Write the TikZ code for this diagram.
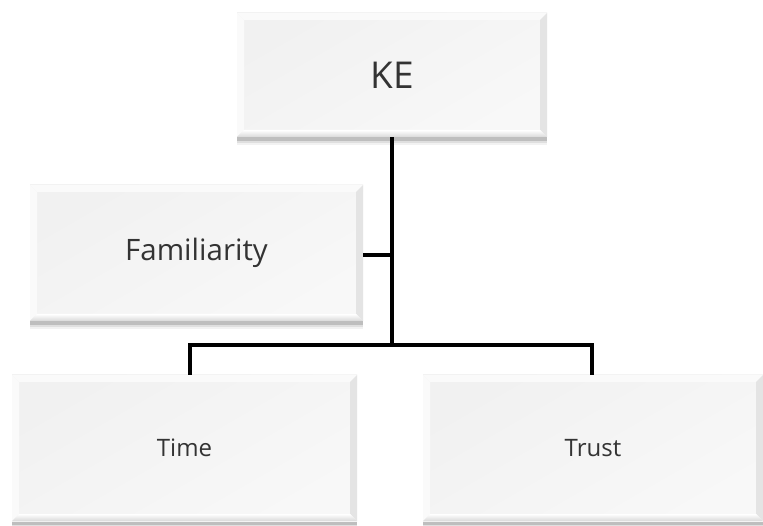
\documentclass[tikz,border=0pt]{standalone}
\usepackage{fontspec}
\setmainfont{Open Sans}
\usetikzlibrary{calc}
\definecolor{face}{HTML}{F1F1F1}
\definecolor{facelt}{HTML}{F8F8F8}
\definecolor{bevtop}{HTML}{FAFAFA}
\definecolor{bevside}{HTML}{E4E4E4}
\definecolor{txt}{HTML}{333333}
\tikzset{
  bevelbox/.style={
    rectangle, inner sep=0pt, text=txt,
    preaction={fill=black, opacity=0.05, transform canvas={yshift=-8pt}},
    preaction={fill=black, opacity=0.08, transform canvas={yshift=-6pt}},
    preaction={fill=black, opacity=0.15, transform canvas={yshift=-4pt}},
    shade, top color=face, bottom color=facelt, shading angle=30,
    path picture={
      \coordinate (sw) at (path picture bounding box.south west);
      \coordinate (ne) at (path picture bounding box.north east);
      \coordinate (se) at (sw -| ne);
      \coordinate (nw) at (sw |- ne);
      % top and left bevels
      \fill[bevtop] (nw) -- (ne) -- ($(ne)+(-7,7)$) -- ($(nw)+(7,7)$) -- cycle;
      \fill[bevtop] (nw) -- ($(nw)+(7,7)$) -- ($(sw)+(7,-7)$) -- (sw) -- cycle;
      % right bevel
      \fill[bevside] (ne) -- (se) -- ($(se)+(-7,-7)$) -- ($(ne)+(-7,7)$) -- cycle;
      % bottom bevel
      \shade[top color=white, bottom color=gray!30] (sw) -- ($(sw)+(7,-7)$) -- ($(se)+(-7,-7)$) -- (se) -- cycle;
      \draw[white, line width=0.8pt] ($(sw)+(7,-7)$) -- ($(se)+(-7,-7)$);
    }
  },
  conn/.style={line width=4pt, black}
}
\begin{document}
\begin{tikzpicture}[x=1pt, y=-1pt]
  \useasboundingbox (0,0) rectangle (763,526);

  \node[bevelbox, minimum width=310pt, minimum height=124pt, font=\fontsize{37}{42}\selectfont] (KE) at (392,75) {KE};
  \node[bevelbox, minimum width=333pt, minimum height=136pt, font=\fontsize{29.5}{34}\selectfont] (Fam) at (196.5,253) {Familiarity};
  \node[bevelbox, minimum width=345pt, minimum height=146pt, font=\fontsize{24}{28}\selectfont] (Time) at (184.5,448) {Time};
  \node[bevelbox, minimum width=340pt, minimum height=146pt, font=\fontsize{24}{28}\selectfont] (Trust) at (593,448) {Trust};

  % connectors
  \coordinate (j) at ($(KE.south)+(0,208)$);
  \coordinate (tl) at ([xshift=5.5pt]Time.north);
  \coordinate (tr) at ([xshift=-1pt]Trust.north);
  \draw[conn] (KE.south) -- (j);
  \draw[conn] (tl) -- (tl |- j) -- (tr |- j) -- (tr);
  \draw[conn] ([yshift=-2pt]Fam.east) -- ([yshift=-2pt]Fam.east -| j);
\end{tikzpicture}
\end{document}
